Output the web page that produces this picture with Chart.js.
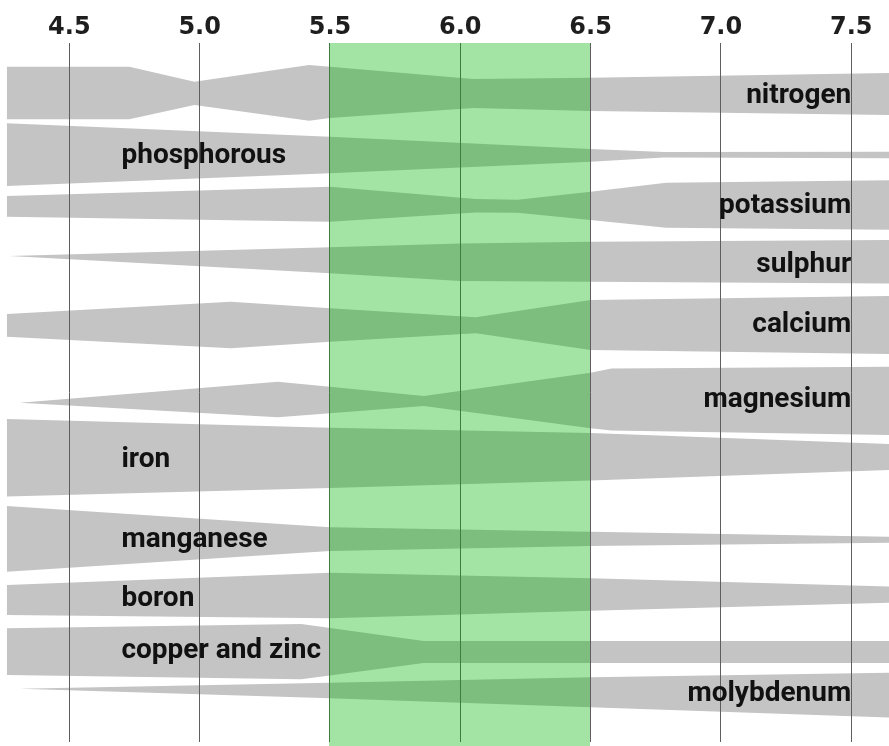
<!DOCTYPE html>
<html>
<head>
<meta charset="utf-8">
<title>Nutrient availability by soil pH</title>
<script src="https://cdn.jsdelivr.net/npm/chart.js@4.4.1/dist/chart.umd.min.js"></script>
<style>
  html, body { margin: 0; padding: 0; background: #fff; }
  #wrap { width: 889px; height: 746px; position: relative; }
</style>
</head>
<body>
<div id="wrap"><canvas id="phChart"></canvas></div>
<script>
// pH tick labels along the top
const tickValues = [4.5, 5.0, 5.5, 6.0, 6.5, 7.0, 7.5];
// ideal pH range (green band)
const idealRange = [5.5, 6.5];

const nutrients = ['nitrogen', 'phosphorous', 'potassium', 'sulphur', 'calcium', 'magnesium',
    'iron', 'manganese', 'boron', 'copper and zinc', 'molybdenum'];
const labelSide = ['right', 'left', 'right', 'right', 'right', 'right',
    'left', 'left', 'left', 'left', 'right'];
// text baseline of each name, in the same depth units as the bands
const labelDepth = [60.3, 120.3, 170, 229.3, 288.7, 363.7, 423.7, 503.7, 563, 614.7, 658];

// breakpoints (pH) of each band, with top / bottom edge (depth units from top of plot)
const bandPh = [
    [4.26, 4.73, 4.98, 5.42, 5.5, 6.05, 6.5, 7.7],
    [4.26, 5.5, 6.5, 6.78, 7.7],
    [4.26, 5.5, 6.06, 6.22, 6.5, 6.79, 7.7],
    [4.27, 5.5, 6.0, 6.5, 7.7],
    [4.26, 5.12, 5.5, 6.06, 6.5, 7.7],
    [4.31, 5.3, 5.5, 5.86, 6.5, 6.58, 7.7],
    [4.26, 5.5, 6.5, 7.7],
    [4.26, 5.5, 6.5, 7.7],
    [4.26, 5.5, 6.5, 7.7],
    [4.26, 5.39, 5.86, 7.7],
    [4.31, 5.5, 6.5, 7.7]
];
const bandTop = [
    [23.7, 23.7, 38.7, 22, 23.7, 36, 34.7, 29.8],
    [80.3, 93.7, 106, 109, 108.7],
    [153, 143.7, 156, 156.7, 148.7, 139.7, 137],
    [213, 204.3, 200.5, 198.7, 197],
    [271, 258.7, 265.3, 274.3, 257, 252.8],
    [359.7, 338.7, 343.7, 353, 329.7, 325.5, 323.6],
    [376, 384.7, 390, 401.5],
    [463, 484.3, 488.7, 494],
    [542, 529.7, 535.3, 544],
    [585.3, 581, 598, 598],
    [645.7, 639.7, 634.3, 629.5]
];
const bandBottom = [
    [76.3, 76.3, 62, 77.7, 75, 65, 68, 72.3],
    [143, 130.3, 118.7, 114.5, 115.3],
    [173.7, 178.7, 169.5, 169.7, 177, 184.7, 187],
    [213, 230.3, 238, 238.7, 240.5],
    [293.7, 305.3, 298.7, 290.3, 307, 311.2],
    [359.7, 374.3, 370.3, 363, 385.3, 387.5, 392.2],
    [453.5, 445, 437.5, 426.5],
    [528.7, 508, 503, 499.5],
    [572, 575.3, 567.7, 559.3],
    [632, 636.3, 620, 620],
    [645.7, 655.3, 664.3, 675]
];

const bandGrey = '#c4c4c4';
const greenOverlay = 'rgba(0, 179, 5, 0.36)';

// build two line datasets per nutrient, the lower one filled up to the upper one
const datasets = [];
nutrients.forEach((name, i) => {
    const top = bandPh[i].map((ph, j) => ({ x: ph, y: bandTop[i][j] }));
    const bottom = bandPh[i].map((ph, j) => ({ x: ph, y: bandBottom[i][j] }));
    datasets.push({
        label: name + ' top', data: top, fill: false,
        borderWidth: 0, borderColor: 'rgba(0,0,0,0)', pointRadius: 0, tension: 0
    });
    datasets.push({
        label: name, data: bottom, fill: '-1', backgroundColor: bandGrey,
        borderWidth: 0, borderColor: 'rgba(0,0,0,0)', pointRadius: 0, tension: 0
    });
});

const overlayPlugin = {
    id: 'overlay',
    afterDraw(chart) {
        const ctx = chart.ctx;
        const xs = chart.scales.x;
        const ys = chart.scales.y;
        const area = chart.chartArea;

        // ideal range band, drawn over the grey bands and grid lines
        const left = Math.floor(xs.getPixelForValue(idealRange[0]));
        const right = Math.floor(xs.getPixelForValue(idealRange[1]));
        ctx.save();
        ctx.fillStyle = greenOverlay;
        ctx.fillRect(left, area.top, right - left, chart.height - area.top);

        // nutrient names
        ctx.font = 'bold 28px Roboto';
        ctx.fillStyle = '#111';
        ctx.textBaseline = 'alphabetic';
        nutrients.forEach((name, i) => {
            const ph = labelSide[i] === 'right' ? 7.5 : 4.7;
            ctx.textAlign = labelSide[i];
            ctx.fillText(name, xs.getPixelForValue(ph), ys.getPixelForValue(labelDepth[i]));
        });
        ctx.restore();
    }
};

const ctx = document.getElementById('phChart').getContext('2d');
const phChart = new Chart(ctx, {
    type: 'line',
    data: { datasets: datasets },
    options: {
        responsive: true,
        maintainAspectRatio: false,
        animation: false,
        layout: { padding: { left: 0, right: 0, top: 0, bottom: 4 } },
        plugins: {
            legend: { display: false },
            tooltip: { enabled: false }
        },
        scales: {
            x: {
                type: 'linear',
                position: 'top',
                min: 4.234,
                max: 7.645,
                afterBuildTicks: scale => { scale.ticks = tickValues.map(v => ({ value: v })); },
                afterFit: scale => { scale.height = 43; },
                grid: { color: '#5e5e5e', lineWidth: 1, drawTicks: false, z: 1 },
                border: { display: false },
                ticks: {
                    padding: 1,
                    autoSkip: false,
                    maxRotation: 0,
                    color: '#1e1e1e',
                    font: { family: 'DejaVu Sans', size: 24, weight: 'bold' },
                    callback: v => Number(v).toFixed(1)
                }
            },
            y: {
                type: 'linear',
                display: false,
                reverse: true,
                min: 0,
                max: 699
            }
        }
    },
    plugins: [overlayPlugin]
});
</script>
</body>
</html>
